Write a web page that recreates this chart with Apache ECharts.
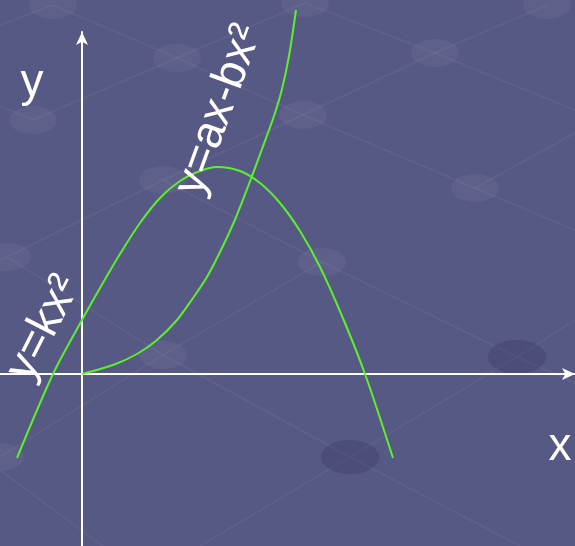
<!DOCTYPE html>
<html>
<head>
<meta charset="utf-8">
<script src="https://cdn.jsdelivr.net/npm/echarts@6/dist/echarts.min.js"></script>
<style>
  html, body { margin: 0; padding: 0; background: #575985; }
  #chart { width: 575px; height: 546px; }
</style>
</head>
<body>
<div id="chart"></div>
<script>
// 曲線資料（讀自原圖，單位：50px = 1）
const steepX = [0, 0.62, 1.10, 1.50, 1.90, 2.22, 2.50, 2.76, 3.04, 3.34, 3.60, 3.84, 4.00, 4.14, 4.28];
const steepY = [0, 0.18, 0.40, 0.68, 1.08, 1.52, 1.94, 2.44, 3.04, 3.80, 4.50, 5.16, 5.70, 6.36, 7.28];
const archX = [-1.30, -0.58, 0, 0.36, 0.76, 1.16, 1.56, 1.96, 2.36, 2.70, 3.16, 3.56, 3.96, 4.36, 4.76, 5.20, 5.66, 6.22];
const archY = [-1.68, 0, 1.08, 1.72, 2.40, 3.02, 3.52, 3.86, 4.06, 4.14, 4.06, 3.82, 3.42, 2.86, 2.14, 1.16, 0, -1.68];
const curveLabels = ['y=ax-bx²', 'y=kx²'];
const axisNames = ['x', 'y'];

// 背景花紋（裝飾用）
const nodes = [
  [53, 5], [177, 58], [303, 115], [305, 3], [435, 53], [547, 5], [33, 120],
  [163, 180], [7, 257], [475, 188], [322, 262], [163, 355], [517, 357], [350, 457], [0, 457]
];
const links = [
  [0, 1], [1, 2], [2, 9], [3, 4], [7, 10], [10, 12], [8, 11], [11, 13],
  [14, 11], [11, 10], [8, 7], [7, 2], [2, 4], [4, 5], [6, 1], [1, 3], [13, 12]
];
const edgeLines = [
  [435, 53, 575, 110], [475, 188, 575, 230], [475, 188, 575, 133], [517, 357, 575, 383],
  [517, 357, 575, 320], [350, 457, 200, 546], [350, 457, 520, 546], [0, 470, 103, 546],
  [53, 5, 0, 25], [33, 120, 0, 106], [7, 257, 0, 260]
];

const chart = echarts.init(document.getElementById('chart'));
const zip = (xs, ys) => xs.map((x, i) => [x, ys[i]]);
const green = '#5cf02c';
const font = '"Liberation Sans", Arial, sans-serif';

const deco = [];
const segs = links.map(([a, b]) => nodes[a].concat(nodes[b])).concat(edgeLines);
segs.forEach(s => {
  deco.push({
    type: 'line', z: -2, silent: true,
    shape: { x1: s[0], y1: s[1], x2: s[2], y2: s[3] },
    style: { stroke: 'rgba(255,255,255,0.045)', lineWidth: 2 }
  });
});
nodes.forEach(([x, y]) => {
  const dark = y > 340 && x > 300;
  deco.push({
    type: 'ellipse', z: -1, silent: true,
    shape: { cx: x, cy: y, rx: dark ? 29 : 24, ry: dark ? 17 : 14 },
    style: { fill: dark ? 'rgba(45,45,85,0.25)' : 'rgba(255,255,255,0.045)' }
  });
});

const labelStyle = (text) => ({
  text: text, fill: '#fff', font: '46px ' + font, align: 'center', verticalAlign: 'middle'
});

const option = {
  backgroundColor: '#575985',
  animation: false,
  grid: { left: 0, right: 0, top: 32, bottom: 0 },
  xAxis: {
    type: 'value', min: -1.64, max: 9.86,
    axisLine: { onZero: true, symbol: ['none', 'arrow'], symbolSize: [9, 13], lineStyle: { color: '#fff', width: 2 } },
    axisTick: { show: false }, axisLabel: { show: false }, splitLine: { show: false }
  },
  yAxis: {
    type: 'value', min: -3.44, max: 6.84,
    axisLine: { onZero: true, symbol: ['none', 'arrow'], symbolSize: [9, 13], lineStyle: { color: '#fff', width: 2 } },
    axisTick: { show: false }, axisLabel: { show: false }, splitLine: { show: false }
  },
  graphic: deco.concat([
    { type: 'text', z: 100, x: 219, y: 110, rotation: 70 * Math.PI / 180, style: labelStyle(curveLabels[0]) },
    { type: 'text', z: 100, x: 44, y: 328, rotation: 63 * Math.PI / 180, style: labelStyle(curveLabels[1]) },
    { type: 'text', z: 100, x: 560, y: 447, style: labelStyle(axisNames[0]) },
    { type: 'text', z: 100, x: 32, y: 83, style: labelStyle(axisNames[1]) }
  ]),
  series: [
    {
      type: 'line', data: zip(steepX, steepY), smooth: 0.3, showSymbol: false, clip: false,
      lineStyle: { color: green, width: 2 }
    },
    {
      type: 'line', data: zip(archX, archY), smooth: 0.3, showSymbol: false, clip: false,
      lineStyle: { color: green, width: 2 }
    }
  ]
};

chart.setOption(option);
</script>
</body>
</html>
